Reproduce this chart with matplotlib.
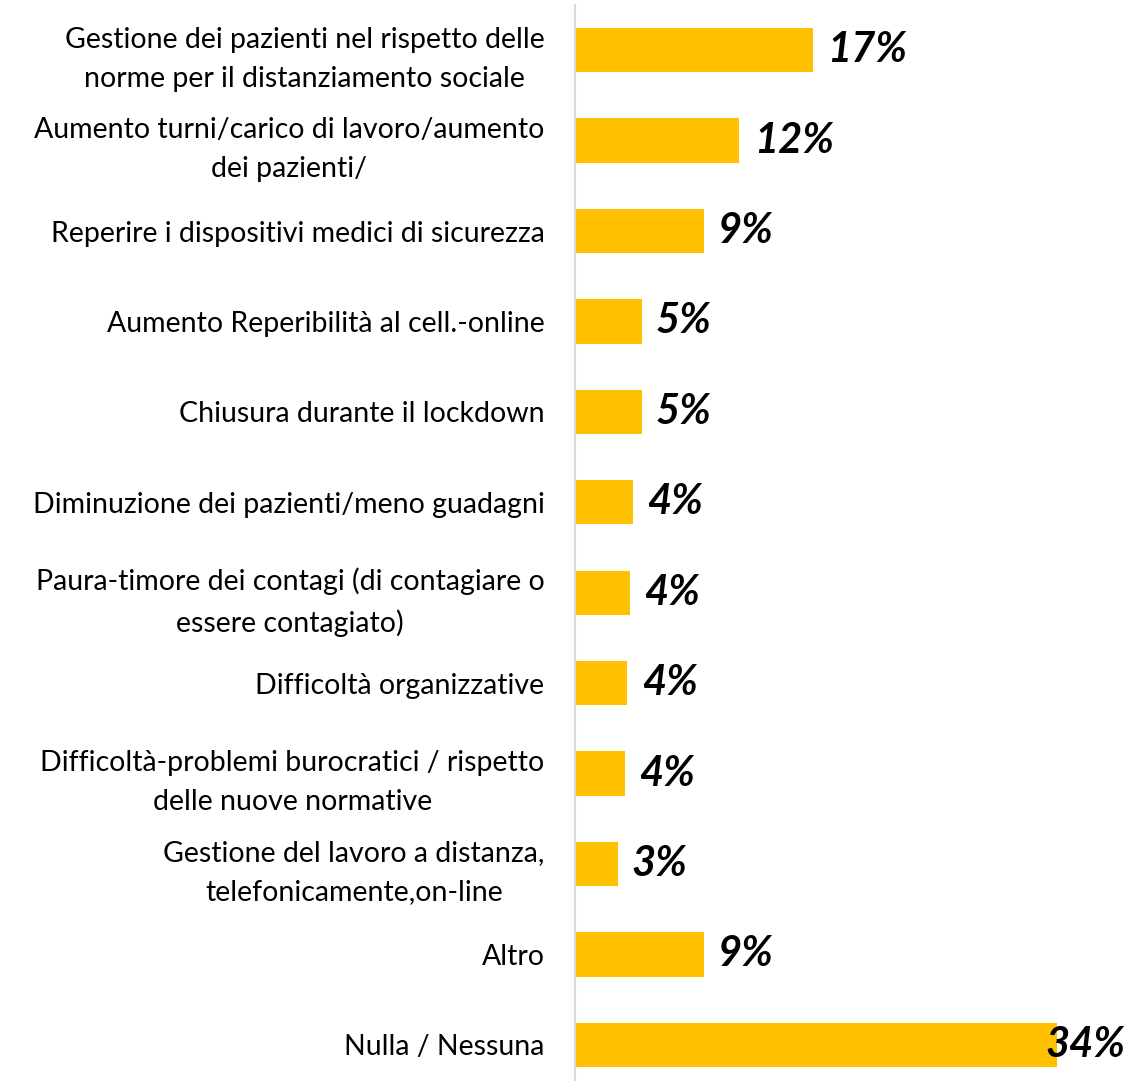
import matplotlib.pyplot as plt

categorie = [
    "Gestione dei pazienti nel rispetto delle\nnorme per il distanziamento sociale",
    "Aumento turni/carico di lavoro/aumento\ndei pazienti/",
    "Reperire i dispositivi medici di sicurezza",
    "Aumento Reperibilità al cell.-online",
    "Chiusura durante il lockdown",
    "Diminuzione dei pazienti/meno guadagni",
    "Paura-timore dei contagi (di contagiare o\nessere contagiato)",
    "Difficoltà organizzative",
    "Difficoltà-problemi burocratici / rispetto\ndelle nuove normative",
    "Gestione del lavoro a distanza,\ntelefonicamente,on-line",
    "Altro",
    "Nulla / Nessuna",
]
valori = [16.8, 11.6, 9.1, 4.7, 4.7, 4.1, 3.9, 3.7, 3.5, 3.0, 9.1, 34.0]
etichette = ["17%", "12%", "9%", "5%", "5%", "4%", "4%", "4%", "4%", "3%", "9%", "34%"]

fig = plt.figure(figsize=(11.34, 10.81), dpi=100)
ax = fig.add_axes([575 / 1134, 0, 1 - 575 / 1134, 1 - 5 / 1081])

y = list(range(len(categorie)))
ax.barh(y, valori, height=0.49, color="#FFC000")

xmax = (1134 - 575) / 14.18
ax.set_xlim(0, xmax)
ax.set_ylim(11.40, -0.5)

for yi, v, lab in zip(y, valori, etichette):
    x = v + 1.0
    ha = "left"
    if x + 6 > xmax:
        x = xmax - 0.6
        ha = "right"
    ax.text(x, yi, lab, va="center", ha=ha, fontsize=30, fontweight="bold",
            fontstyle="italic", family="Lato", color="black")

ax.set_yticks(y)
ax.set_yticklabels(categorie, fontsize=20.5, family="Lato", linespacing=1.62,
                   ha="right", multialignment="center")
ax.tick_params(axis="y", length=0, pad=22)
ax.set_xticks([])

for s in ["top", "right", "bottom"]:
    ax.spines[s].set_visible(False)
ax.spines["left"].set_color("#d9d9d9")
ax.spines["left"].set_linewidth(1.5)

fig.savefig("out.png", dpi=100)
